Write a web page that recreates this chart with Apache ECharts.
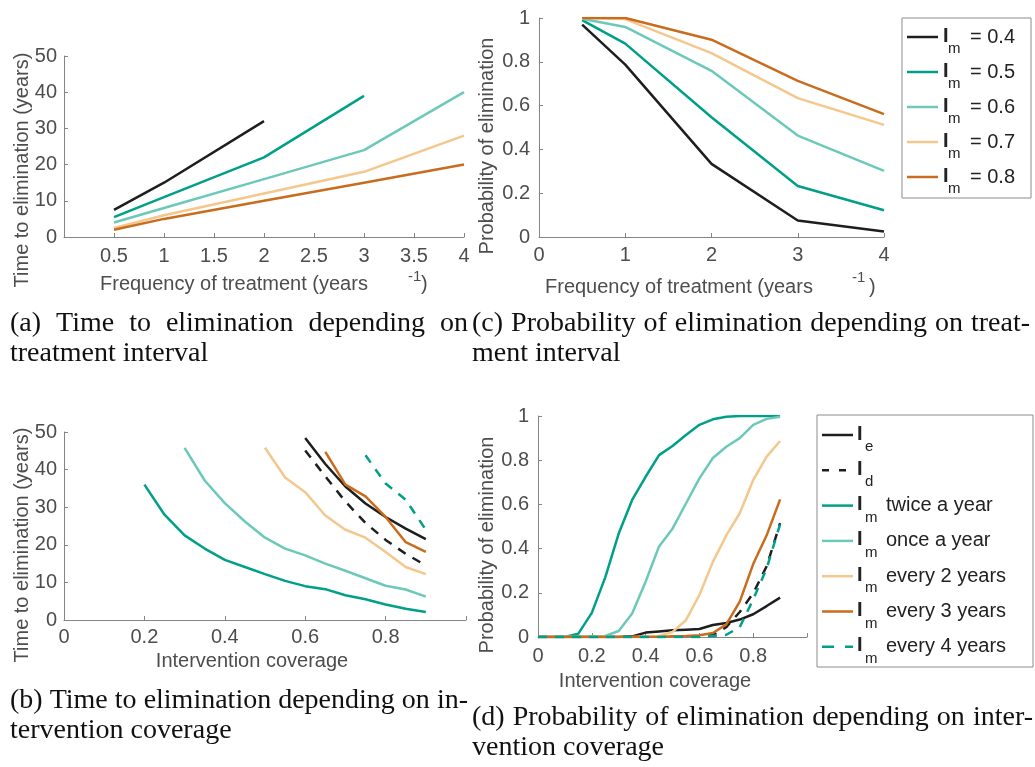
<!DOCTYPE html>
<html><head><meta charset="utf-8">
<script src="https://cdn.jsdelivr.net/npm/echarts@6/dist/echarts.min.js"></script>
<style>html,body{margin:0;padding:0;background:#fff}#c{width:1035px;height:767px}</style>
</head><body><div id="c"></div>
<script>
// ---------- data ----------
const freqA = [0.5, 1, 2, 3, 4];
const timeA_04 = [7.5, 15, 32];
const timeA_05 = [5.5, 11, 22, 39];
const timeA_06 = [4, 8, 16, 24, 40];
const timeA_07 = [2.5, 6, 12, 18, 28];
const timeA_08 = [2, 5, 10, 15, 20];

const probC_04 = [0.97, 0.787, 0.334, 0.075, 0.025];
const probC_05 = [0.99, 0.883, 0.547, 0.233, 0.122];
const probC_06 = [0.997, 0.959, 0.759, 0.463, 0.302];
const probC_07 = [1, 0.995, 0.84, 0.634, 0.512];
const probC_08 = [1, 1, 0.901, 0.713, 0.561];

const coverage = [0, 0.05, 0.1, 0.15, 0.2, 0.25, 0.3, 0.35, 0.4, 0.45, 0.5, 0.55, 0.6, 0.65, 0.7, 0.75, 0.8, 0.85, 0.9];
const N = null;
const timeB_Ie    = [N,N,N,N,N,N,N,N,N,N,N,N, 48.4, 41.5, 35.5, 31, 27.4, 24.3, 21.5];
const timeB_Id    = [N,N,N,N,N,N,N,N,N,N,N,N, 45.1, 38.2, 31.5, 25.8, 21.3, 17.6, 14.5];
const timeB_twice = [N,N,N,N, 36, 28, 22.5, 19, 16, 14.1, 12.2, 10.4, 9, 8.2, 6.6, 5.5, 4.1, 3, 2.1];
const timeB_once  = [N,N,N,N,N,N, 45.8, 37.1, 31.1, 26.2, 21.9, 19, 17.2, 15, 13.1, 11.1, 9.1, 8.1, 6.2];
const timeB_2y    = [N,N,N,N,N,N,N,N,N,N, 45.8, 37.9, 34, 27.8, 24, 21.9, 18.1, 14.1, 12.2];
const timeB_3y    = [N,N,N,N,N,N,N,N,N,N,N,N,N, 44.7, 36, 32.9, 27.4, 20.7, 18.1];
const timeB_4y    = [N,N,N,N,N,N,N,N,N,N,N,N,N,N,N, 43.8, 36.3, 32, 24];

const probD_Ie    = [0,0,0,0,0,0,0, 0.003, 0.02, 0.025, 0.03, 0.033, 0.036, 0.054, 0.063, 0.079, 0.103, 0.14, 0.178];
const probD_Id    = [0,0,0,0,0,0,0,0,0,0,0,0,0, 0.01, 0.045, 0.113, 0.198, 0.32, 0.515];
const probD_twice = [0,0,0, 0.015, 0.109, 0.27, 0.468, 0.62, 0.725, 0.823, 0.864, 0.914, 0.96, 0.985, 0.997, 1, 1, 1, 1];
const probD_once  = [0,0,0,0, 0.003, 0.005, 0.027, 0.106, 0.25, 0.41, 0.49, 0.604, 0.718, 0.81, 0.861, 0.9, 0.96, 0.987, 0.997];
const probD_2y    = [0,0,0,0,0,0,0,0, 0.002, 0.005, 0.023, 0.076, 0.19, 0.34, 0.46, 0.56, 0.71, 0.816, 0.887];
const probD_3y    = [0,0,0,0,0,0,0,0,0,0, 0.003, 0.005, 0.008, 0.018, 0.057, 0.16, 0.33, 0.46, 0.623];
const probD_4y    = [0,0,0,0,0,0,0,0,0,0,0,0,0, 0.005, 0.01, 0.045, 0.17, 0.31, 0.51];

const legendA_values = ['0.4', '0.5', '0.6', '0.7', '0.8'];
const legendB_subs = ['e', 'd', 'm', 'm', 'm', 'm', 'm'];
const legendB_texts = ['', '', 'twice a year', 'once a year', 'every 2 years', 'every 3 years', 'every 4 years'];

// ---------- style ----------
const C_BLACK = '#1e1e1e', C_DTEAL = '#00a088', C_LTEAL = '#6cc9b9', C_LOR = '#f4c78c', C_DOR = '#c96c1e';
const AXIS = '#858585', LBL = '#4d4d4d';
const SANS = '"Liberation Sans", Arial, sans-serif';
const SERIF = '"Liberation Serif", "Times New Roman", serif';
const LW = 2.5;
const CAP = 28;

function xAx(grid, min, max, interval, hide, margin) {
  return {type:'value', gridIndex:grid, min, max, interval,
    axisLine:{show:true, onZero:false, lineStyle:{color:AXIS, width:1}},
    axisTick:{show:true, inside:true, length:4, lineStyle:{color:AXIS}},
    splitLine:{show:false},
    axisLabel:{color:LBL, fontSize:20, fontFamily:SANS, margin, showMinLabel:true, showMaxLabel:true,
      formatter: v => hide.indexOf(Math.round(v*1000)/1000) >= 0 ? '' : String(Math.round(v*1000)/1000)}};
}
function yAx(grid, min, max, interval, margin) {
  return {type:'value', gridIndex:grid, min, max, interval,
    axisLine:{show:true, onZero:false, lineStyle:{color:AXIS, width:1}},
    axisTick:{show:true, inside:true, length:4, lineStyle:{color:AXIS}},
    splitLine:{show:false},
    axisLabel:{color:LBL, fontSize:20, fontFamily:SANS, margin,
      formatter: v => String(Math.round(v*1000)/1000)}};
}
function pairs(xs, ys) {
  const out = [];
  ys.forEach((y, i) => { if (y !== null && y !== undefined) out.push([xs[i], y]); });
  return out;
}
function line(ax, xs, ys, color, dash) {
  return {type:'line', xAxisIndex:ax, yAxisIndex:ax, data:pairs(xs, ys), symbol:'none', silent:true,
    lineStyle:{color, width:LW, type: dash ? [9, 8] : 'solid'}, z: 2};
}

const series = [
  line(0, freqA, timeA_04, C_BLACK), line(0, freqA, timeA_05, C_DTEAL), line(0, freqA, timeA_06, C_LTEAL),
  line(0, freqA, timeA_07, C_LOR), line(0, freqA, timeA_08, C_DOR),
  line(1, freqA, probC_04, C_BLACK), line(1, freqA, probC_05, C_DTEAL), line(1, freqA, probC_06, C_LTEAL),
  line(1, freqA, probC_07, C_LOR), line(1, freqA, probC_08, C_DOR),
  line(2, coverage, timeB_Ie, C_BLACK), line(2, coverage, timeB_Id, C_BLACK, true),
  line(2, coverage, timeB_twice, C_DTEAL), line(2, coverage, timeB_once, C_LTEAL),
  line(2, coverage, timeB_2y, C_LOR), line(2, coverage, timeB_3y, C_DOR), line(2, coverage, timeB_4y, C_DTEAL, true),
  line(3, coverage, probD_Ie, C_BLACK), line(3, coverage, probD_Id, C_BLACK, true),
  line(3, coverage, probD_twice, C_DTEAL), line(3, coverage, probD_once, C_LTEAL),
  line(3, coverage, probD_2y, C_LOR), line(3, coverage, probD_3y, C_DOR), line(3, coverage, probD_4y, C_DTEAL, true)
];

// ---------- graphic texts ----------
const G = [];
function txt(text, x, y, size, opts) {
  opts = opts || {};
  const el = {type:'text', x, y, silent:true, z:10,
    style:{text, font:(opts.bold ? 'bold ' : '') + size + 'px ' + (opts.family || SANS), fill:opts.fill || LBL,
      align:opts.align || 'left', textAlign:opts.align || 'left',
      verticalAlign:'middle', textVerticalAlign:'middle'}};
  if (opts.rot) el.rotation = opts.rot;
  G.push(el);
}
// axis names
txt('Frequency of treatment (years', 100, 284, 20);
txt('-1', 408, 277, 15);
txt(')', 421, 284, 20);
txt('Frequency of treatment (years', 545, 287, 20);
txt('-1', 852, 278, 15);
txt(')', 869, 287, 20);
txt('Intervention coverage', 252, 661, 20, {align:'center'});
txt('Intervention coverage', 655, 681, 20, {align:'center'});
txt('Time to elimination (years)', 22, 170, 20, {align:'center', rot:Math.PI/2});
txt('Probability of elimination', 487, 146, 20, {align:'center', rot:Math.PI/2});
txt('Time to elimination (years)', 22, 545, 20, {align:'center', rot:Math.PI/2});
txt('Probability of elimination', 487, 545, 20, {align:'center', rot:Math.PI/2});

// legends
const legendA_colors = [C_BLACK, C_DTEAL, C_LTEAL, C_LOR, C_DOR];
G.push({type:'rect', shape:{x:902, y:18, width:129, height:180}, style:{fill:'#fff', stroke:'#8c8c8c', lineWidth:1}, z:5, silent:true});
legendA_values.forEach((v, i) => {
  const y0 = 37 + 35 * i;
  G.push({type:'line', shape:{x1:907, y1:y0, x2:938, y2:y0}, style:{stroke:legendA_colors[i], lineWidth:LW}, z:6, silent:true});
  txt('I', 943, y0 - 1, 20, {bold:true, fill:'#222'});
  txt('m', 948, y0 + 12, 15, {fill:'#222'});
  txt('= ' + v, 970, y0, 20, {fill:'#222'});
});
const legendB_colors = [C_BLACK, C_BLACK, C_DTEAL, C_LTEAL, C_LOR, C_DOR, C_DTEAL];
const legendB_dash = [null, [7, 10], null, null, null, null, [12, 11]];
G.push({type:'rect', shape:{x:817, y:415, width:216, height:252}, style:{fill:'#fff', stroke:'#8c8c8c', lineWidth:1}, z:5, silent:true});
legendB_subs.forEach((s, i) => {
  const y0 = 435 + 35.3 * i;
  const st = {stroke:legendB_colors[i], lineWidth:LW};
  if (legendB_dash[i]) st.lineDash = legendB_dash[i];
  G.push({type:'line', shape:{x1:822, y1:y0, x2:853, y2:y0}, style:st, z:6, silent:true});
  txt('I', 857, y0 - 1, 20, {bold:true, fill:'#222'});
  txt(s, 865, y0 + 12, 15, {fill:'#222'});
  if (legendB_texts[i]) txt(legendB_texts[i], 886, y0, 20, {fill:'#222'});
});

// captions
const capFont = CAP + 'px ' + SERIF;
const mctx = document.createElement('canvas').getContext('2d');
function justified(text, x0, x1, y) {
  mctx.font = capFont;
  const words = text.split(' ');
  const w = words.map(t => mctx.measureText(t).width);
  const total = w.reduce((a, b) => a + b, 0);
  let gap = (x1 - x0 - total) / (words.length - 1);
  if (gap < 3) gap = 3;
  let x = x0;
  words.forEach((t, i) => { txt(t, x, y, CAP, {family:SERIF, fill:'#111'}); x += w[i] + gap; });
}
justified('(a) Time to elimination depending on', 10, 468, 324);
txt('treatment interval', 10, 354, CAP, {family:SERIF, fill:'#111'});
justified('(c) Probability of elimination depending on treat-', 472, 1030, 324);
txt('ment interval', 472, 354, CAP, {family:SERIF, fill:'#111'});
justified('(b) Time to elimination depending on in-', 10, 468, 701);
txt('tervention coverage', 10, 731, CAP, {family:SERIF, fill:'#111'});
justified('(d) Probability of elimination depending on inter-', 472, 1033, 718);
txt('vention coverage', 472, 748, CAP, {family:SERIF, fill:'#111'});

const option = {
  animation:false,
  backgroundColor:'#fff',
  grid:[
    {left:64, top:56, width:400, height:181},
    {left:539, top:18, width:345, height:219},
    {left:64, top:432, width:402, height:188},
    {left:538, top:416, width:269, height:221}
  ],
  xAxis:[
    xAx(0, 0, 4, 0.5, [0], 9),
    xAx(1, 0, 4, 1, [], 8),
    xAx(2, 0, 1, 0.2, [1], 7),
    xAx(3, 0, 1, 0.2, [1], 9)
  ],
  yAxis:[
    yAx(0, 0, 50, 10, 7),
    yAx(1, 0, 1, 0.2, 9),
    yAx(2, 0, 50, 10, 7),
    yAx(3, 0, 1, 0.2, 9)
  ],
  series,
  graphic:G
};
const chart = echarts.init(document.getElementById('c'), null, {renderer:'canvas'});
chart.setOption(option);
</script></body></html>
